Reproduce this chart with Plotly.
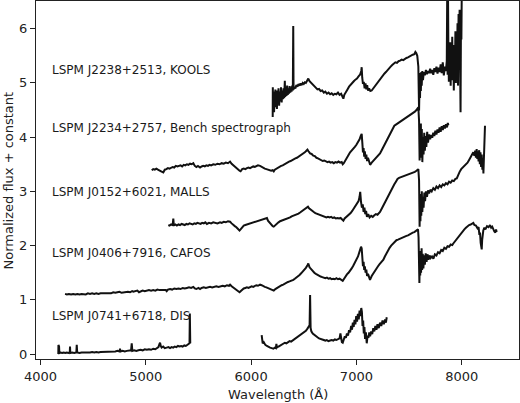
import plotly.graph_objects as go

# (wavelength [Angstrom], normalized flux + constant)
kools = [(6205, 4.37), (6206, 4.92), (6210, 4.50), (6214, 4.84), (6218, 4.46), (6222, 4.78), (6226, 4.55), (6230, 4.88), (6235, 4.60), (6240, 4.82), (6245, 4.52), (6250, 4.86), (6255, 4.62), (6260, 4.90), (6266, 4.58), (6272, 4.84), (6278, 4.66), (6284, 4.92), (6290, 4.64), (6296, 4.86), (6302, 4.70), (6308, 4.90), (6314, 4.72), (6320, 5.04), (6324, 4.74), (6330, 4.92), (6336, 4.76), (6342, 4.95), (6348, 4.78), (6354, 4.90), (6360, 4.80), (6366, 4.94), (6372, 4.82), (6378, 4.92), (6384, 4.84), (6390, 4.95), (6396, 4.86), (6400, 6.05), (6403, 4.88), (6410, 4.93), (6420, 4.90), (6430, 4.96), (6440, 4.93), (6450, 4.98), (6460, 4.95), (6470, 4.99), (6480, 4.96), (6490, 5.00), (6500, 4.98), (6510, 5.01), (6520, 5.00), (6530, 5.04), (6543, 5.08), (6555, 5.03), (6570, 5.00), (6585, 4.97), (6600, 4.94), (6615, 4.92), (6630, 4.88), (6645, 4.89), (6660, 4.85), (6675, 4.86), (6690, 4.82), (6705, 4.84), (6720, 4.80), (6735, 4.82), (6750, 4.79), (6765, 4.81), (6780, 4.78), (6795, 4.80), (6810, 4.79), (6825, 4.82), (6840, 4.78), (6855, 4.80), (6868, 4.76), (6876, 4.71), (6885, 4.78), (6900, 4.82), (6915, 4.88), (6930, 4.93), (6945, 4.97), (6960, 5.01), (6975, 5.03), (6990, 5.06), (7005, 5.08), (7020, 5.12), (7034, 5.15), (7046, 5.22), (7050, 5.29), (7055, 5.10), (7062, 4.98), (7070, 5.02), (7078, 4.90), (7086, 4.99), (7094, 4.88), (7102, 4.96), (7110, 4.86), (7120, 4.90), (7132, 4.85), (7145, 4.86), (7160, 4.90), (7175, 4.94), (7190, 4.98), (7205, 5.03), (7220, 5.06), (7235, 5.10), (7250, 5.13), (7265, 5.17), (7280, 5.20), (7295, 5.24), (7310, 5.28), (7325, 5.30), (7340, 5.33), (7355, 5.35), (7370, 5.38), (7385, 5.37), (7400, 5.40), (7415, 5.41), (7430, 5.43), (7445, 5.42), (7460, 5.45), (7475, 5.46), (7490, 5.47), (7505, 5.49), (7520, 5.50), (7535, 5.52), (7550, 5.53), (7560, 5.57), (7568, 5.55), (7578, 5.50), (7588, 5.30), (7595, 4.49), (7600, 5.05), (7604, 4.72), (7608, 5.18), (7612, 4.85), (7616, 5.20), (7620, 4.95), (7626, 5.22), (7632, 5.05), (7640, 5.20), (7650, 5.14), (7660, 5.24), (7670, 5.16), (7680, 5.22), (7690, 5.18), (7700, 5.26), (7710, 5.18), (7720, 5.24), (7730, 5.15), (7740, 5.27), (7750, 5.20), (7760, 5.30), (7770, 5.17), (7780, 5.28), (7790, 5.20), (7800, 5.34), (7810, 5.18), (7820, 5.38), (7830, 5.14), (7840, 5.30), (7850, 5.22), (7858, 5.40), (7862, 6.60), (7866, 5.15), (7870, 6.60), (7874, 5.45), (7878, 5.02), (7882, 5.65), (7886, 5.20), (7890, 5.75), (7895, 4.95), (7900, 5.60), (7905, 5.10), (7910, 5.85), (7915, 5.05), (7920, 5.55), (7925, 4.86), (7930, 5.70), (7935, 5.15), (7940, 5.95), (7945, 5.00), (7950, 5.60), (7955, 5.25), (7960, 6.10), (7965, 4.95), (7970, 6.27), (7975, 5.30), (7980, 6.35), (7985, 5.50), (7989, 4.46), (7993, 6.20), (7997, 5.80), (8000, 6.60)]

bench = [(5056, 3.39), (5070, 3.41), (5085, 3.40), (5100, 3.42), (5115, 3.40), (5130, 3.38), (5145, 3.37), (5166, 3.35), (5180, 3.40), (5195, 3.41), (5210, 3.43), (5225, 3.42), (5240, 3.44), (5255, 3.45), (5270, 3.44), (5285, 3.47), (5300, 3.46), (5315, 3.47), (5330, 3.48), (5345, 3.46), (5360, 3.49), (5375, 3.48), (5390, 3.50), (5405, 3.49), (5420, 3.51), (5435, 3.50), (5451, 3.52), (5465, 3.47), (5480, 3.45), (5495, 3.47), (5515, 3.44), (5530, 3.46), (5545, 3.47), (5560, 3.46), (5575, 3.48), (5590, 3.47), (5605, 3.49), (5620, 3.48), (5640, 3.50), (5660, 3.49), (5680, 3.51), (5700, 3.50), (5720, 3.52), (5740, 3.51), (5760, 3.53), (5780, 3.52), (5800, 3.55), (5815, 3.51), (5830, 3.48), (5845, 3.46), (5860, 3.43), (5875, 3.40), (5890, 3.38), (5900, 3.37), (5915, 3.41), (5930, 3.42), (5945, 3.41), (5960, 3.43), (5975, 3.44), (5990, 3.43), (6005, 3.45), (6020, 3.46), (6035, 3.45), (6050, 3.47), (6065, 3.48), (6085, 3.47), (6100, 3.45), (6115, 3.43), (6130, 3.42), (6145, 3.41), (6160, 3.40), (6175, 3.39), (6190, 3.38), (6205, 3.39), (6215, 3.37), (6225, 3.40), (6240, 3.42), (6255, 3.43), (6270, 3.45), (6285, 3.47), (6300, 3.48), (6315, 3.50), (6330, 3.51), (6345, 3.53), (6360, 3.55), (6375, 3.56), (6390, 3.58), (6405, 3.59), (6420, 3.61), (6435, 3.62), (6450, 3.64), (6465, 3.66), (6480, 3.67), (6495, 3.70), (6510, 3.72), (6525, 3.75), (6535, 3.77), (6545, 3.74), (6560, 3.70), (6575, 3.69), (6590, 3.66), (6605, 3.65), (6620, 3.62), (6635, 3.61), (6650, 3.59), (6665, 3.58), (6680, 3.56), (6695, 3.57), (6710, 3.55), (6725, 3.54), (6740, 3.55), (6755, 3.53), (6770, 3.54), (6785, 3.52), (6800, 3.54), (6815, 3.53), (6830, 3.55), (6845, 3.53), (6860, 3.54), (6870, 3.50), (6880, 3.52), (6895, 3.58), (6910, 3.63), (6925, 3.67), (6940, 3.72), (6955, 3.75), (6970, 3.78), (6985, 3.82), (7000, 3.86), (7015, 3.90), (7030, 3.96), (7042, 4.03), (7050, 4.06), (7056, 3.90), (7062, 3.72), (7068, 3.80), (7074, 3.64), (7080, 3.74), (7087, 3.60), (7094, 3.68), (7101, 3.56), (7110, 3.62), (7120, 3.52), (7130, 3.49), (7145, 3.53), (7160, 3.56), (7175, 3.59), (7190, 3.63), (7205, 3.66), (7224, 3.70), (7240, 3.76), (7255, 3.82), (7270, 3.88), (7285, 3.94), (7300, 3.99), (7315, 4.05), (7330, 4.10), (7345, 4.16), (7360, 4.21), (7375, 4.23), (7390, 4.25), (7405, 4.27), (7420, 4.29), (7435, 4.30), (7450, 4.33), (7465, 4.34), (7480, 4.37), (7495, 4.39), (7510, 4.41), (7525, 4.43), (7540, 4.45), (7555, 4.47), (7570, 4.50), (7580, 4.53), (7588, 4.55), (7595, 4.30), (7600, 3.57), (7604, 4.10), (7608, 3.62), (7612, 4.25), (7616, 3.70), (7621, 4.15), (7626, 3.54), (7632, 4.00), (7638, 3.68), (7644, 4.08), (7650, 3.75), (7657, 4.02), (7664, 3.82), (7672, 4.10), (7680, 3.90), (7690, 4.05), (7700, 3.96), (7710, 4.04), (7720, 3.99), (7730, 4.08), (7740, 4.02), (7750, 4.12), (7760, 4.05), (7770, 4.14), (7780, 4.08), (7790, 4.18), (7800, 4.10), (7810, 4.20), (7820, 4.13), (7830, 4.22), (7840, 4.16), (7850, 4.24), (7860, 4.18), (7868, 4.26), (7873, 4.22)]

malls = [(5214, 2.38), (5225, 2.37), (5240, 2.39), (5255, 2.38), (5261, 2.50), (5266, 2.37), (5280, 2.39), (5295, 2.37), (5310, 2.39), (5325, 2.38), (5340, 2.40), (5355, 2.39), (5370, 2.38), (5385, 2.40), (5400, 2.39), (5415, 2.41), (5430, 2.40), (5445, 2.39), (5460, 2.41), (5475, 2.40), (5490, 2.42), (5505, 2.41), (5520, 2.40), (5535, 2.42), (5550, 2.41), (5565, 2.43), (5580, 2.40), (5600, 2.42), (5620, 2.41), (5640, 2.43), (5660, 2.42), (5680, 2.41), (5705, 2.43), (5720, 2.42), (5740, 2.44), (5760, 2.43), (5780, 2.45), (5800, 2.44), (5815, 2.41), (5830, 2.38), (5845, 2.36), (5860, 2.34), (5875, 2.31), (5890, 2.28), (5900, 2.30), (5915, 2.34), (5930, 2.37), (5945, 2.38), (5960, 2.39), (5975, 2.40), (5990, 2.41), (6005, 2.42), (6020, 2.43), (6035, 2.43), (6050, 2.45), (6065, 2.46), (6080, 2.47), (6095, 2.48), (6110, 2.48), (6125, 2.49), (6140, 2.50), (6150, 2.51), (6160, 2.46), (6175, 2.42), (6190, 2.39), (6205, 2.36), (6215, 2.35), (6230, 2.38), (6245, 2.41), (6260, 2.43), (6275, 2.45), (6290, 2.46), (6305, 2.48), (6320, 2.49), (6338, 2.50), (6355, 2.51), (6370, 2.52), (6385, 2.54), (6400, 2.55), (6415, 2.56), (6433, 2.57), (6450, 2.59), (6465, 2.61), (6480, 2.63), (6495, 2.65), (6510, 2.67), (6525, 2.69), (6540, 2.72), (6550, 2.69), (6565, 2.66), (6580, 2.64), (6595, 2.62), (6610, 2.60), (6625, 2.59), (6640, 2.57), (6655, 2.56), (6670, 2.55), (6685, 2.54), (6700, 2.53), (6715, 2.52), (6730, 2.53), (6745, 2.52), (6760, 2.53), (6775, 2.51), (6790, 2.52), (6805, 2.50), (6820, 2.51), (6835, 2.50), (6850, 2.51), (6865, 2.49), (6876, 2.46), (6888, 2.50), (6900, 2.52), (6915, 2.54), (6930, 2.57), (6945, 2.60), (6960, 2.64), (6975, 2.68), (6990, 2.72), (7005, 2.76), (7020, 2.82), (7030, 2.90), (7036, 2.99), (7044, 2.80), (7052, 2.70), (7060, 2.76), (7068, 2.62), (7076, 2.70), (7084, 2.58), (7092, 2.64), (7100, 2.53), (7112, 2.58), (7125, 2.52), (7140, 2.55), (7155, 2.53), (7170, 2.56), (7185, 2.58), (7200, 2.57), (7215, 2.60), (7224, 2.62), (7240, 2.68), (7255, 2.74), (7270, 2.80), (7285, 2.86), (7300, 2.91), (7315, 2.96), (7330, 3.02), (7345, 3.08), (7360, 3.13), (7375, 3.18), (7390, 3.23), (7405, 3.25), (7420, 3.26), (7435, 3.28), (7450, 3.28), (7465, 3.30), (7480, 3.31), (7495, 3.32), (7510, 3.33), (7525, 3.34), (7540, 3.35), (7555, 3.36), (7570, 3.38), (7580, 3.40), (7588, 3.41), (7595, 3.20), (7600, 2.35), (7604, 2.80), (7608, 2.45), (7612, 2.95), (7616, 2.55), (7621, 3.00), (7626, 2.62), (7632, 2.90), (7638, 2.70), (7645, 2.98), (7652, 2.82), (7660, 3.00), (7670, 2.90), (7680, 3.02), (7690, 2.96), (7702, 3.03), (7715, 3.00), (7730, 3.06), (7745, 3.03), (7760, 3.09), (7775, 3.06), (7790, 3.11), (7805, 3.08), (7820, 3.13), (7835, 3.11), (7850, 3.15), (7865, 3.13), (7880, 3.18), (7895, 3.16), (7910, 3.20), (7925, 3.19), (7940, 3.23), (7953, 3.24), (7965, 3.30), (7980, 3.36), (7995, 3.41), (8010, 3.44), (8025, 3.47), (8040, 3.50), (8055, 3.53), (8070, 3.58), (8085, 3.63), (8100, 3.68), (8110, 3.72), (8120, 3.66), (8128, 3.75), (8135, 3.62), (8142, 3.78), (8148, 3.60), (8154, 3.74), (8160, 3.55), (8166, 3.76), (8172, 3.50), (8178, 3.72), (8184, 3.45), (8190, 3.68), (8196, 3.40), (8202, 3.60), (8206, 3.33), (8212, 3.80), (8218, 4.05), (8221, 4.21)]

cafos = [(4233, 1.11), (4250, 1.10), (4270, 1.11), (4290, 1.10), (4310, 1.11), (4330, 1.10), (4350, 1.11), (4370, 1.10), (4390, 1.11), (4410, 1.11), (4430, 1.10), (4450, 1.12), (4470, 1.11), (4490, 1.12), (4510, 1.11), (4530, 1.12), (4550, 1.11), (4570, 1.12), (4590, 1.12), (4610, 1.13), (4630, 1.12), (4650, 1.13), (4670, 1.12), (4690, 1.14), (4710, 1.13), (4730, 1.14), (4750, 1.15), (4770, 1.13), (4790, 1.14), (4810, 1.14), (4830, 1.15), (4850, 1.14), (4870, 1.16), (4881, 1.15), (4900, 1.16), (4920, 1.17), (4935, 1.14), (4950, 1.16), (4970, 1.17), (4990, 1.16), (5010, 1.17), (5030, 1.18), (5050, 1.17), (5070, 1.18), (5090, 1.17), (5110, 1.19), (5130, 1.18), (5150, 1.18), (5170, 1.19), (5190, 1.18), (5198, 1.16), (5210, 1.19), (5230, 1.20), (5250, 1.19), (5270, 1.21), (5290, 1.20), (5310, 1.21), (5330, 1.20), (5350, 1.22), (5370, 1.21), (5390, 1.22), (5410, 1.23), (5430, 1.22), (5451, 1.24), (5465, 1.21), (5480, 1.20), (5500, 1.22), (5515, 1.20), (5530, 1.22), (5550, 1.23), (5570, 1.22), (5590, 1.23), (5610, 1.24), (5630, 1.23), (5650, 1.24), (5670, 1.25), (5690, 1.24), (5710, 1.25), (5730, 1.26), (5750, 1.25), (5770, 1.27), (5790, 1.26), (5800, 1.28), (5815, 1.25), (5830, 1.23), (5845, 1.21), (5860, 1.19), (5875, 1.17), (5890, 1.14), (5900, 1.16), (5915, 1.19), (5930, 1.21), (5945, 1.22), (5960, 1.23), (5975, 1.22), (5990, 1.24), (6005, 1.25), (6020, 1.24), (6035, 1.26), (6050, 1.27), (6065, 1.26), (6085, 1.28), (6100, 1.27), (6115, 1.25), (6130, 1.24), (6145, 1.23), (6160, 1.22), (6175, 1.21), (6190, 1.20), (6205, 1.18), (6215, 1.17), (6230, 1.20), (6245, 1.22), (6260, 1.23), (6275, 1.25), (6290, 1.27), (6305, 1.28), (6320, 1.30), (6335, 1.31), (6350, 1.33), (6365, 1.34), (6380, 1.35), (6401, 1.37), (6415, 1.39), (6430, 1.41), (6445, 1.44), (6460, 1.46), (6475, 1.49), (6490, 1.52), (6505, 1.55), (6520, 1.59), (6535, 1.64), (6543, 1.67), (6555, 1.60), (6570, 1.56), (6585, 1.52), (6600, 1.50), (6615, 1.48), (6630, 1.46), (6645, 1.45), (6660, 1.43), (6675, 1.42), (6690, 1.41), (6705, 1.40), (6720, 1.41), (6735, 1.39), (6750, 1.40), (6765, 1.38), (6780, 1.39), (6795, 1.38), (6810, 1.40), (6825, 1.38), (6840, 1.39), (6855, 1.37), (6870, 1.35), (6880, 1.38), (6895, 1.43), (6910, 1.47), (6925, 1.50), (6939, 1.53), (6955, 1.58), (6970, 1.63), (6985, 1.68), (7000, 1.74), (7015, 1.80), (7028, 1.88), (7036, 1.93), (7044, 1.98), (7050, 1.95), (7056, 1.75), (7062, 1.62), (7068, 1.70), (7074, 1.55), (7080, 1.62), (7087, 1.50), (7094, 1.56), (7101, 1.44), (7110, 1.48), (7120, 1.40), (7129, 1.37), (7145, 1.44), (7160, 1.49), (7175, 1.54), (7190, 1.58), (7205, 1.62), (7220, 1.66), (7240, 1.70), (7256, 1.74), (7270, 1.80), (7285, 1.86), (7300, 1.91), (7315, 1.96), (7330, 2.00), (7351, 2.04), (7365, 2.08), (7380, 2.10), (7395, 2.11), (7414, 2.13), (7430, 2.14), (7445, 2.16), (7460, 2.17), (7475, 2.18), (7490, 2.19), (7505, 2.21), (7520, 2.22), (7535, 2.24), (7550, 2.25), (7565, 2.27), (7575, 2.28), (7585, 2.30), (7590, 2.15), (7595, 1.50), (7598, 1.31), (7602, 1.75), (7606, 1.45), (7610, 1.90), (7614, 1.50), (7619, 1.95), (7624, 1.55), (7630, 1.85), (7636, 1.58), (7643, 1.82), (7650, 1.65), (7658, 1.86), (7666, 1.70), (7675, 1.84), (7685, 1.74), (7695, 1.82), (7705, 1.77), (7718, 1.80), (7731, 1.76), (7745, 1.84), (7760, 1.82), (7775, 1.88), (7790, 1.86), (7805, 1.92), (7820, 1.90), (7835, 1.96), (7850, 1.94), (7865, 1.99), (7880, 1.98), (7895, 2.02), (7910, 2.01), (7920, 2.04), (7935, 2.08), (7950, 2.12), (7965, 2.16), (7980, 2.20), (7995, 2.24), (8010, 2.27), (8025, 2.30), (8040, 2.33), (8055, 2.36), (8070, 2.38), (8085, 2.39), (8100, 2.40), (8110, 2.42), (8120, 2.38), (8135, 2.37), (8150, 2.32), (8160, 2.34), (8168, 2.20), (8174, 2.24), (8180, 2.05), (8186, 1.95), (8190, 1.93), (8194, 2.10), (8200, 2.25), (8205, 2.28), (8215, 2.33), (8225, 2.30), (8240, 2.36), (8255, 2.34), (8269, 2.38), (8280, 2.33), (8290, 2.35), (8300, 2.28), (8310, 2.26), (8320, 2.24), (8326, 2.30), (8332, 2.25)]

dis_blue = [(4169, 0.00), (4170, 0.17), (4172, 0.03), (4176, 0.14), (4179, 0.02), (4190, 0.03), (4205, 0.02), (4220, 0.03), (4235, 0.02), (4250, 0.03), (4265, 0.02), (4278, 0.03), (4280, 0.14), (4283, 0.02), (4300, 0.03), (4320, 0.02), (4340, 0.03), (4344, 0.17), (4348, 0.03), (4370, 0.02), (4390, 0.03), (4410, 0.03), (4430, 0.02), (4450, 0.03), (4470, 0.03), (4490, 0.04), (4510, 0.03), (4530, 0.04), (4550, 0.03), (4570, 0.04), (4590, 0.04), (4610, 0.05), (4630, 0.04), (4650, 0.05), (4670, 0.04), (4690, 0.05), (4710, 0.05), (4730, 0.06), (4750, 0.05), (4755, 0.10), (4760, 0.05), (4780, 0.06), (4800, 0.05), (4820, 0.06), (4840, 0.06), (4860, 0.07), (4866, 0.20), (4872, 0.06), (4890, 0.07), (4910, 0.06), (4930, 0.07), (4950, 0.08), (4970, 0.07), (4990, 0.09), (5010, 0.08), (5030, 0.09), (5050, 0.08), (5070, 0.10), (5090, 0.09), (5105, 0.11), (5120, 0.13), (5130, 0.19), (5135, 0.21), (5142, 0.15), (5150, 0.12), (5165, 0.14), (5180, 0.11), (5198, 0.12), (5215, 0.13), (5230, 0.11), (5245, 0.13), (5260, 0.12), (5275, 0.14), (5290, 0.13), (5305, 0.15), (5320, 0.14), (5335, 0.15), (5350, 0.14), (5365, 0.16), (5380, 0.15), (5395, 0.17), (5408, 0.18), (5415, 0.20), (5418, 0.75), (5420, 0.22), (5422, 0.20)]

dis_red = [(6100, 0.35), (6104, 0.24), (6110, 0.20), (6120, 0.22), (6135, 0.17), (6150, 0.15), (6165, 0.13), (6180, 0.12), (6195, 0.11), (6211, 0.10), (6225, 0.12), (6235, 0.11), (6240, 0.19), (6245, 0.12), (6260, 0.14), (6275, 0.16), (6290, 0.18), (6305, 0.19), (6320, 0.21), (6335, 0.20), (6350, 0.22), (6365, 0.24), (6380, 0.23), (6401, 0.26), (6415, 0.28), (6430, 0.30), (6445, 0.32), (6460, 0.34), (6475, 0.36), (6490, 0.38), (6505, 0.40), (6520, 0.43), (6535, 0.47), (6548, 0.51), (6555, 0.50), (6560, 1.09), (6565, 0.48), (6572, 0.42), (6585, 0.38), (6600, 0.35), (6615, 0.33), (6630, 0.31), (6645, 0.29), (6660, 0.28), (6675, 0.27), (6690, 0.26), (6705, 0.25), (6718, 0.26), (6735, 0.24), (6750, 0.25), (6765, 0.26), (6780, 0.25), (6795, 0.27), (6810, 0.26), (6825, 0.28), (6840, 0.29), (6848, 0.38), (6855, 0.25), (6862, 0.22), (6870, 0.21), (6880, 0.27), (6890, 0.33), (6900, 0.30), (6910, 0.38), (6920, 0.34), (6930, 0.44), (6940, 0.40), (6950, 0.52), (6958, 0.45), (6966, 0.58), (6974, 0.50), (6982, 0.63), (6990, 0.55), (6998, 0.70), (7006, 0.60), (7014, 0.74), (7022, 0.64), (7030, 0.80), (7038, 0.70), (7046, 0.85), (7052, 0.78), (7058, 0.52), (7064, 0.62), (7070, 0.38), (7076, 0.50), (7082, 0.28), (7090, 0.40), (7098, 0.20), (7106, 0.34), (7114, 0.30), (7122, 0.40), (7130, 0.33), (7140, 0.42), (7150, 0.37), (7160, 0.48), (7170, 0.42), (7180, 0.52), (7190, 0.45), (7200, 0.55), (7212, 0.48), (7224, 0.58), (7236, 0.52), (7248, 0.62), (7260, 0.55), (7272, 0.64), (7280, 0.58), (7288, 0.68)]

labels = ["LSPM J2238+2513, KOOLS", "LSPM J2234+2757, Bench spectrograph",
          "LSPM J0152+6021, MALLS", "LSPM J0406+7916, CAFOS", "LSPM J0741+6718, DIS"]
label_y = [5.23, 4.17, 2.99, 1.86, 0.70]
label_x = 4090

x_ticks = [4000, 5000, 6000, 7000, 8000]
y_ticks = [0, 1, 2, 3, 4, 5, 6]
x_title = "Wavelength (Å)"
y_title = "Normalized flux + constant"

FONT = "DejaVu Sans"
INK = "#222222"
fig = go.Figure()
for spec in [kools, bench, malls, cafos, dis_blue, dis_red]:
    wl, fl = zip(*spec)
    fig.add_trace(go.Scatter(x=list(wl), y=list(fl), mode="lines",
                             line=dict(color="#111111", width=2),
                             showlegend=False, hoverinfo="skip"))

for txt, yv in zip(labels, label_y):
    fig.add_annotation(x=label_x, y=yv, xref="x", yref="y", text=txt,
                       showarrow=False, xanchor="left", yanchor="middle",
                       font=dict(family=FONT, size=12, color="#1a1a1a"))

fig.add_annotation(x=0.5, y=-0.10, xref="paper", yref="paper", text=x_title,
                   showarrow=False, xanchor="center", yanchor="middle",
                   font=dict(family=FONT, size=13, color=INK))
fig.add_annotation(x=-0.057, y=0.50, xref="paper", yref="paper", text=y_title,
                   showarrow=False, xanchor="center", yanchor="middle", textangle=-90,
                   font=dict(family=FONT, size=13, color=INK))

axis_common = dict(showgrid=False, zeroline=False, showline=True, mirror=True,
                   linecolor=INK, linewidth=1.2, ticks="outside",
                   ticklen=5, tickwidth=1, tickcolor=INK, automargin=False,
                   tickfont=dict(family=FONT, size=13, color=INK))

fig.update_layout(
    width=520, height=403,
    margin=dict(l=36, r=1, t=1, b=44),
    paper_bgcolor="white", plot_bgcolor="white",
    xaxis=dict(range=[3957, 8544], tickvals=x_ticks, **axis_common),
    yaxis=dict(range=[-0.09, 6.51], tickvals=y_ticks, **axis_common),
)
fig.write_html("out.html", config={"displayModeBar": False},
               post_script="document.body.style.margin='0';"
                           "document.body.style.overflow='hidden';")
